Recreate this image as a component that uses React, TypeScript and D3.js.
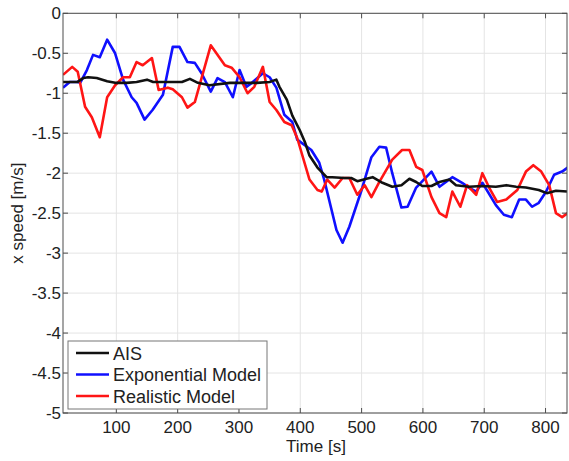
import React from "react";
import * as d3 from "d3";

// AIS (black)
const aisT = [13, 36, 46, 54, 68, 85, 98, 117, 133, 150, 160, 176, 195, 207, 220, 233, 252, 285, 312, 329, 350, 361, 366, 378, 387, 399, 408, 415, 428, 443, 452, 472, 483, 493, 508, 518, 534, 550, 565, 578, 589, 599, 614, 627, 643, 654, 675, 697, 719, 736, 752, 768, 789, 802, 817, 835];
const aisV = [-0.86, -0.86, -0.81, -0.8, -0.81, -0.85, -0.87, -0.87, -0.86, -0.83, -0.86, -0.86, -0.86, -0.86, -0.82, -0.87, -0.9, -0.87, -0.87, -0.87, -0.86, -0.83, -0.92, -1.08, -1.28, -1.46, -1.62, -1.78, -1.93, -2.05, -2.05, -2.06, -2.06, -2.1, -2.07, -2.05, -2.12, -2.17, -2.15, -2.07, -2.11, -2.16, -2.16, -2.11, -2.08, -2.15, -2.17, -2.16, -2.17, -2.15, -2.17, -2.18, -2.21, -2.25, -2.22, -2.23];

// Exponential Model (blue)
const expT = [13, 24, 37, 41, 52, 62, 73, 85, 98, 111, 125, 133, 146, 159, 176, 192, 203, 216, 228, 239, 254, 265, 277, 290, 301, 312, 321, 339, 350, 361, 374, 387, 395, 418, 431, 439, 459, 469, 480, 500, 516, 529, 540, 550, 565, 575, 589, 614, 627, 648, 664, 675, 687, 697, 719, 732, 745, 757, 768, 778, 789, 801, 814, 827, 836];
const expV = [-0.93, -0.86, -0.86, -0.87, -0.71, -0.52, -0.55, -0.33, -0.5, -0.83, -1.05, -1.12, -1.33, -1.21, -1.02, -0.42, -0.42, -0.61, -0.62, -0.75, -0.98, -0.81, -0.86, -1.05, -0.71, -0.92, -0.87, -0.75, -0.8, -0.93, -1.27, -1.36, -1.58, -1.71, -1.87, -2.08, -2.71, -2.87, -2.67, -2.21, -1.8, -1.67, -1.68, -2.0, -2.43, -2.42, -2.18, -1.98, -2.17, -2.05, -2.12, -2.18, -2.23, -2.12, -2.4, -2.52, -2.55, -2.33, -2.33, -2.42, -2.37, -2.23, -2.02, -1.98, -1.93];

// Realistic Model (red)
const realT = [13, 28, 37, 49, 60, 73, 85, 98, 111, 122, 133, 143, 158, 169, 184, 192, 207, 216, 228, 254, 277, 288, 301, 314, 325, 339, 350, 361, 374, 386, 395, 415, 428, 435, 444, 456, 469, 480, 493, 505, 516, 529, 550, 566, 578, 589, 599, 614, 627, 638, 648, 661, 672, 687, 697, 708, 721, 736, 754, 768, 780, 793, 806, 817, 827, 836];
const realV = [-0.77, -0.67, -0.73, -1.17, -1.3, -1.55, -1.05, -0.9, -0.8, -0.8, -0.61, -0.65, -0.56, -0.96, -0.93, -0.95, -1.05, -1.18, -1.11, -0.4, -0.65, -0.68, -0.8, -1.0, -0.92, -0.67, -1.11, -1.21, -1.36, -1.4, -1.56, -2.08, -2.21, -2.23, -2.08, -2.18, -2.06, -2.06, -2.27, -2.15, -2.3, -2.11, -1.83, -1.71, -1.71, -1.92, -1.96, -2.3, -2.5, -2.55, -2.23, -2.42, -2.15, -2.27, -2.0, -2.18, -2.36, -2.33, -2.21, -1.98, -1.9, -1.98, -2.15, -2.5, -2.55, -2.5];

const xTicks = [100, 200, 300, 400, 500, 600, 700, 800];
const yTicks = [0, -0.5, -1, -1.5, -2, -2.5, -3, -3.5, -4, -4.5, -5];

const seriesNames = ["AIS", "Exponential Model", "Realistic Model"];
const seriesColors = ["#111111", "#1010ff", "#ff1515"];

const width = 569;
const height = 461;
const left = 63;
const right = 567;
const top = 13.3;
const bottom = 413;
const font = "'Liberation Sans', Arial, sans-serif";

export default function App() {
  const x = d3.scaleLinear().domain([13, 835]).range([left, right]);
  const y = d3.scaleLinear().domain([-5, 0]).range([bottom, top]);

  const line = d3
    .line<[number, number]>()
    .x(d => x(d[0]))
    .y(d => y(d[1]));

  const series = [
    d3.zip(aisT, aisV) as [number, number][],
    d3.zip(expT, expV) as [number, number][],
    d3.zip(realT, realV) as [number, number][]
  ];

  const legendX = 68;
  const legendY = 341;
  const rowH = 21.5;

  return (
    <svg
      width={width}
      height={height}
      style={{ position: "absolute", left: 0, top: 0, background: "#fff" }}
      fontFamily={font}
    >
      <defs>
        <clipPath id="plot">
          <rect x={left} y={top} width={right - left} height={bottom - top} />
        </clipPath>
      </defs>

      {/* grid */}
      <g stroke="#e4e4e4" strokeWidth={1}>
        {xTicks.map(t => (
          <line key={"gx" + t} x1={x(t)} x2={x(t)} y1={top} y2={bottom} />
        ))}
        {yTicks.map(t => (
          <line key={"gy" + t} x1={left} x2={right} y1={y(t)} y2={y(t)} />
        ))}
      </g>

      {/* lines */}
      <g clipPath="url(#plot)" fill="none" strokeWidth={2.6} strokeLinejoin="round">
        <path d={line(series[1]) || ""} stroke={seriesColors[1]} />
        <path d={line(series[2]) || ""} stroke={seriesColors[2]} />
        <path d={line(series[0]) || ""} stroke={seriesColors[0]} />
      </g>

      {/* axes box and ticks */}
      <g stroke="#4d4d4d" strokeWidth={1}>
        <rect x={left} y={top} width={right - left} height={bottom - top} fill="none" />
        {xTicks.map(t => (
          <g key={"tx" + t}>
            <line x1={x(t)} x2={x(t)} y1={bottom} y2={bottom - 5} />
            <line x1={x(t)} x2={x(t)} y1={top} y2={top + 5} />
          </g>
        ))}
        {yTicks.map(t => (
          <g key={"ty" + t}>
            <line x1={left} x2={left + 5} y1={y(t)} y2={y(t)} />
            <line x1={right} x2={right - 5} y1={y(t)} y2={y(t)} />
          </g>
        ))}
      </g>

      {/* tick labels */}
      <g fontSize={17} fill="#222">
        {xTicks.map(t => (
          <text key={"lx" + t} x={x(t)} y={bottom + 20} textAnchor="middle">
            {t}
          </text>
        ))}
        {yTicks.map(t => (
          <text key={"ly" + t} x={left - 2} y={y(t) + 6} textAnchor="end">
            {t}
          </text>
        ))}
      </g>

      <text x={316} y={452} textAnchor="middle" fontSize={17} fill="#222">
        Time [s]
      </text>
      <text
        transform={`translate(23,${(top + bottom) / 2}) rotate(-90)`}
        textAnchor="middle"
        fontSize={17}
        fill="#222"
      >
        x speed [m/s]
      </text>

      {/* legend */}
      <g>
        <rect x={legendX} y={legendY} width={199} height={68} fill="#fff" stroke="#777" strokeWidth={1} />
        {seriesNames.map((name, i) => (
          <g key={name} transform={`translate(${legendX},${legendY + 12 + i * rowH})`}>
            <line x1={8} x2={41} y1={0} y2={0} stroke={seriesColors[i]} strokeWidth={2.6} />
            <text x={45} y={6.5} fontSize={18} fill="#222">
              {name}
            </text>
          </g>
        ))}
      </g>
    </svg>
  );
}
